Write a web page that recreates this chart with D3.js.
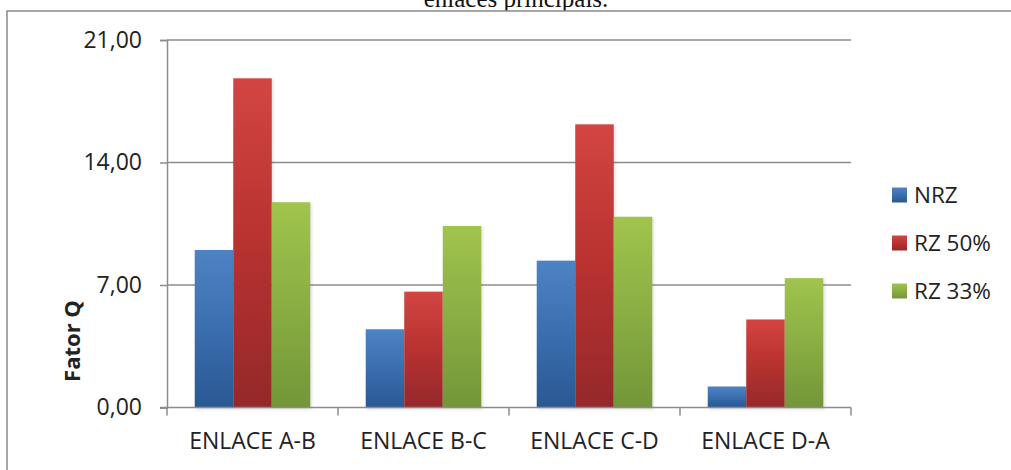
<!DOCTYPE html>
<html>
<head>
<meta charset="utf-8">
<script src="https://cdn.jsdelivr.net/npm/d3@7"></script>
<style>
  html, body { margin: 0; padding: 0; background: #fff; }
  svg { display: block; }
</style>
</head>
<body>
<svg id="chart" width="1011" height="470"></svg>
<script>
// Quality factor per link, for each modulation format
const categories = ["ENLACE A-B", "ENLACE B-C", "ENLACE C-D", "ENLACE D-A"];
const seriesNames = ["NRZ", "RZ 50%", "RZ 33%"];
const nrz   = [9.00, 4.47, 8.39, 1.20];
const rz50  = [18.81, 6.62, 16.18, 5.03];
const rz33  = [11.73, 10.37, 10.90, 7.39];
const yTicks = [0, 7, 14, 21];
const yTickLabels = ["0,00", "7,00", "14,00", "21,00"];

const seriesValues = [nrz, rz50, rz33];
const gradStops = [
  ["#4d83c4", "#3a6eaf", "#2a5893"],
  ["#d24542", "#b83230", "#95282a"],
  ["#a0c44c", "#8aae43", "#739639"]
];

const svg = d3.select("#chart");
const font = "'Open Sans', sans-serif";

// Gradient fills for the bars
const defs = svg.append("defs");
gradStops.forEach((stops, i) => {
  const g = defs.append("linearGradient")
    .attr("id", "grad" + i)
    .attr("x1", 0).attr("y1", 0).attr("x2", 0).attr("y2", 1);
  g.append("stop").attr("offset", "0%").attr("stop-color", stops[0]);
  g.append("stop").attr("offset", "50%").attr("stop-color", stops[1]);
  g.append("stop").attr("offset", "100%").attr("stop-color", stops[2]);
});
const blur = defs.append("filter").attr("id", "shadow")
  .attr("x", "-20%").attr("y", "-5%").attr("width", "140%").attr("height", "115%");
blur.append("feGaussianBlur").attr("stdDeviation", 1.5);

// Caption above the frame (its upper part runs off the top of the page)
svg.append("text")
  .attr("x", 516).attr("y", 7)
  .attr("text-anchor", "middle")
  .attr("font-family", "'Liberation Serif', 'Times New Roman', serif")
  .attr("font-size", 25)
  .attr("fill", "#111")
  .text("enlaces principais.");

// Chart frame
svg.append("rect")
  .attr("x", 7).attr("y", 11)
  .attr("width", 1020).attr("height", 480)
  .attr("fill", "#fff")
  .attr("stroke", "#8a8a8a").attr("stroke-width", 1.5);

const plot = { left: 167, right: 851, top: 40, bottom: 407.5 };

const x = d3.scaleBand()
  .domain(categories)
  .range([plot.left, plot.right])
  .paddingInner(0).paddingOuter(0);

const inner = d3.scaleBand()
  .domain(d3.range(seriesNames.length))
  .range([0, x.bandwidth()])
  .paddingInner(0)
  .paddingOuter(0.72);

const y = d3.scaleLinear()
  .domain([0, 21])
  .range([plot.bottom, plot.top]);

// Horizontal gridlines
svg.append("g")
  .selectAll("line")
  .data(yTicks.filter(d => d > 0))
  .join("line")
  .attr("x1", plot.left).attr("x2", plot.right)
  .attr("y1", d => y(d)).attr("y2", d => y(d))
  .attr("stroke", "#8c8c8c").attr("stroke-width", 1.5);

// Bars with a soft drop shadow
const groups = svg.append("g")
  .selectAll("g")
  .data(categories)
  .join("g")
  .attr("transform", d => `translate(${x(d)},0)`);

groups.each(function(cat, ci) {
  const g = d3.select(this);
  seriesValues.forEach((vals, si) => {
    g.append("rect")
      .attr("x", inner(si) + 1.5)
      .attr("y", y(vals[ci]) + 1)
      .attr("width", inner.bandwidth())
      .attr("height", plot.bottom - y(vals[ci]) + 1)
      .attr("fill", "#000")
      .attr("opacity", 0.12)
      .attr("filter", "url(#shadow)");
  });
  seriesValues.forEach((vals, si) => {
    g.append("rect")
      .attr("x", inner(si))
      .attr("y", y(vals[ci]))
      .attr("width", inner.bandwidth())
      .attr("height", plot.bottom - y(vals[ci]))
      .attr("fill", `url(#grad${si})`);
  });
});

// Y axis
const yAxis = d3.axisLeft(y)
  .tickValues(yTicks)
  .tickFormat((d, i) => yTickLabels[i])
  .tickSize(7)
  .tickPadding(18);
const yg = svg.append("g")
  .attr("transform", `translate(${plot.left},0)`)
  .call(yAxis);
yg.select(".domain").attr("stroke", "#8c8c8c").attr("stroke-width", 1.5);
yg.selectAll(".tick line").attr("stroke", "#8c8c8c").attr("stroke-width", 1.5);
yg.selectAll(".tick text")
  .attr("font-family", font).attr("font-size", 23).attr("fill", "#222");

// X axis with ticks at the category boundaries
svg.append("line")
  .attr("x1", plot.left - 7).attr("x2", plot.right)
  .attr("y1", plot.bottom).attr("y2", plot.bottom)
  .attr("stroke", "#8c8c8c").attr("stroke-width", 1.5);
const bounds = categories.map(c => x(c)).concat([x(categories[categories.length - 1]) + x.bandwidth()]);
svg.append("g")
  .selectAll("line")
  .data(bounds)
  .join("line")
  .attr("x1", d => d).attr("x2", d => d)
  .attr("y1", plot.bottom).attr("y2", plot.bottom + 8)
  .attr("stroke", "#8c8c8c").attr("stroke-width", 1.5);

svg.append("g")
  .selectAll("text")
  .data(categories)
  .join("text")
  .attr("x", d => x(d) + x.bandwidth() / 2)
  .attr("y", 449)
  .attr("text-anchor", "middle")
  .attr("font-family", font).attr("font-size", 23)
  .attr("fill", "#222")
  .text(d => d);

// Y axis title
svg.append("text")
  .attr("transform", "translate(80,341) rotate(-90)")
  .attr("text-anchor", "middle")
  .attr("font-family", font).attr("font-size", 22)
  .attr("font-weight", "bold")
  .attr("fill", "#222")
  .text("Fator Q");

// Legend
const legend = svg.append("g")
  .selectAll("g")
  .data(seriesNames)
  .join("g")
  .attr("transform", (d, i) => `translate(892,${187.5 + i * 48})`);
legend.append("rect")
  .attr("width", 15).attr("height", 15)
  .attr("fill", (d, i) => `url(#grad${i})`);
legend.append("text")
  .attr("x", 22).attr("y", 15.5)
  .attr("font-family", font).attr("font-size", 22.5)
  .attr("fill", "#222")
  .text(d => d);
</script>
</body>
</html>
